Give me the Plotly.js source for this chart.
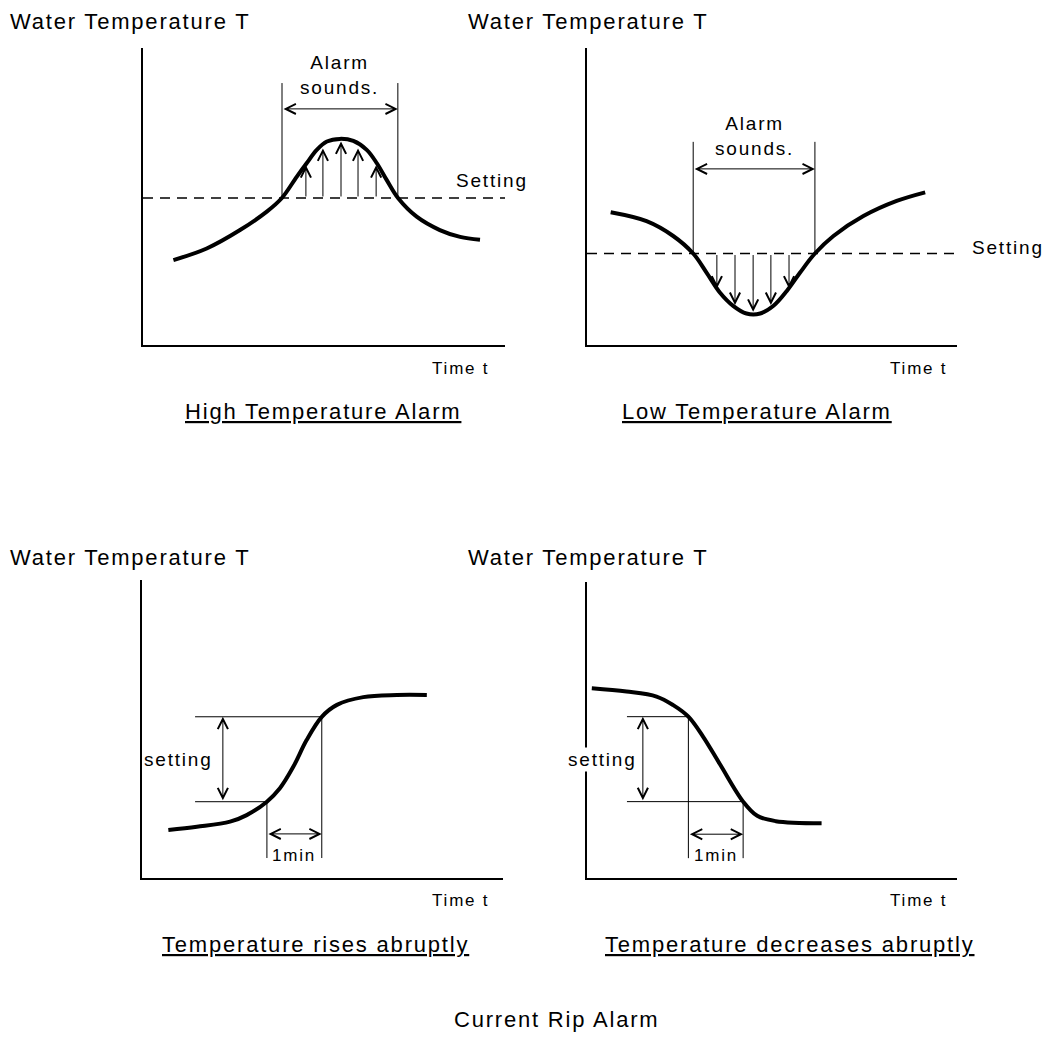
<!DOCTYPE html>
<html>
<head>
<meta charset="utf-8">
<script src="https://cdn.plot.ly/plotly-3.0.1.min.js"></script>
<style>
  html, body { margin: 0; padding: 0; background: #fff; }
  #chart { width: 1049px; height: 1045px; }
  text { letter-spacing: 1.8px; }
</style>
</head>
<body>
<div id="chart"></div>
<script>
// ---------------- DATA ----------------
// Panel 1: High Temperature Alarm  (time t, water temperature T, arbitrary units 0..10)
const highT     = [0.84, 1.76, 2.68, 3.42, 3.83, 4.25, 4.52, 4.80, 5.08, 5.44, 5.81, 6.18, 6.46, 6.73, 7.05, 7.56, 8.20, 8.76, 9.31];
const highTemp  = [2.86, 3.25, 3.87, 4.49, 4.94, 5.67, 6.12, 6.57, 6.85, 6.94, 6.87, 6.57, 6.12, 5.56, 4.94, 4.32, 3.87, 3.64, 3.54];
const highSetting = 4.95;
const highAlarmWindow = [3.84, 7.04];
const highArrowT   = [4.50, 4.97, 5.47, 5.94, 6.44];
const highArrowTip = [6.05, 6.62, 6.85, 6.62, 6.05];

// Panel 2: Low Temperature Alarm
const lowT     = [0.64, 1.61, 2.33, 2.87, 3.23, 3.59, 3.95, 4.31, 4.68, 5.04, 5.40, 5.76, 6.16, 6.66, 7.47, 8.37, 9.14];
const lowTemp  = [4.47, 4.17, 3.67, 3.08, 2.44, 1.77, 1.32, 1.06, 1.06, 1.32, 1.82, 2.44, 3.08, 3.67, 4.34, 4.85, 5.14];
const lowSetting = 3.08;
const lowAlarmWindow = [2.87, 6.16];
const lowArrowT   = [3.51, 4.00, 4.49, 4.97, 5.46];
const lowArrowTip = [1.90, 1.35, 1.12, 1.35, 1.90];

// Panel 3: Temperature rises abruptly
const riseT    = [0.73, 1.52, 2.44, 2.90, 3.46, 3.82, 4.19, 4.56, 4.98, 5.40, 6.13, 7.06, 7.89];
const riseTemp = [1.61, 1.72, 1.89, 2.11, 2.56, 3.01, 3.73, 4.63, 5.41, 5.81, 6.07, 6.14, 6.14];
const riseLevels = [2.56, 5.41];     // temperatures bounding the "setting" span
const riseTimes  = [3.46, 4.98];     // times bounding the "1min" span

// Panel 4: Temperature decreases abruptly
const fallT    = [0.13, 1.07, 1.88, 2.33, 2.74, 3.14, 3.59, 4.22, 4.60, 5.10, 6.34];
const fallTemp = [6.41, 6.30, 6.13, 5.84, 5.45, 4.77, 3.85, 2.58, 2.10, 1.92, 1.85];
const fallLevels = [2.58, 5.45];
const fallTimes  = [2.74, 4.22];

// Text labels
const axisTitle  = 'Water Temperature T';
const timeLabel  = 'Time t';
const panelCaptions = ['High Temperature Alarm', 'Low Temperature Alarm', 'Temperature rises abruptly', 'Temperature decreases abruptly'];
const figureCaption = 'Current Rip Alarm';
const alarmText = 'Alarm<br>sounds.';
const settingHigh = 'Setting';
const settingRate = 'setting';
const oneMinute = '1min';

// ---------------- LAYOUT HELPERS ----------------
const W = 1049, H = 1045;
const px = v => v / W;
const py = v => 1 - v / H;
const FONT = 'Liberation Sans, Arial, Helvetica, sans-serif';
const BLACK = '#000';

function axis(d0, d1, horizontal) {
  return {
    domain: horizontal ? [px(d0), px(d1)] : [py(d1), py(d0)],
    range: [0, 10], showline: true, linewidth: 2, linecolor: BLACK,
    showgrid: false, zeroline: false, showticklabels: false, ticks: '', fixedrange: true
  };
}

const curveLine = {shape: 'spline', smoothing: 1.0, width: 4, color: BLACK};
const thin = {width: 1, color: BLACK};

const traces = [];
const shapes = [];
const annotations = [];

function curve(x, y, n) {
  traces.push({x, y, xaxis: 'x' + n, yaxis: 'y' + n, mode: 'lines', line: curveLine, hoverinfo: 'skip', cliponaxis: false});
}
function seg(n, x0, y0, x1, y1, extra) {
  shapes.push(Object.assign({type: 'line', xref: 'x' + n, yref: 'y' + n, x0, y0, x1, y1, line: thin}, extra || {}));
}
function arrow(n, xTail, yTail, xHead, yHead, both) {
  annotations.push({
    xref: 'x' + n, yref: 'y' + n, axref: 'x' + n, ayref: 'y' + n,
    x: xHead, y: yHead, ax: xTail, ay: yTail, text: '', showarrow: true,
    arrowhead: 5, arrowsize: 2, arrowwidth: 1, arrowcolor: BLACK,
    arrowside: both ? 'end+start' : 'end', startarrowhead: 5, startarrowsize: 2,
    standoff: 0, startstandoff: 0
  });
}
function label(text, xp, yp, xanchor, size, extra) {
  annotations.push(Object.assign({
    xref: 'paper', yref: 'paper', x: px(xp), y: py(yp), xanchor: xanchor || 'center', yanchor: 'middle',
    text, showarrow: false, font: {family: FONT, size: size || 22, color: BLACK}
  }, extra || {}));
}
function dataLabel(n, text, x, y, size, extra) {
  annotations.push(Object.assign({
    xref: 'x' + n, yref: 'y' + n, x, y, xanchor: 'center', yanchor: 'middle',
    text, showarrow: false, font: {family: FONT, size: size || 19, color: BLACK}
  }, extra || {}));
}

// ---------------- PANEL 1 ----------------
curve(highT, highTemp, '');
shapes.push({type: 'line', xref: 'x', yref: 'y', x0: 0, x1: 10.05, y0: highSetting, y1: highSetting,
             line: {width: 1.5, color: BLACK, dash: '10px,7px'}});
highAlarmWindow.forEach(t => seg('', t, highSetting, t, 8.82));
arrow('', highAlarmWindow[0], 7.95, highAlarmWindow[1], 7.95, true);
highArrowT.forEach((t, i) => arrow('', t, highSetting, t, highArrowTip[i], false));
dataLabel('', alarmText, (highAlarmWindow[0] + highAlarmWindow[1]) / 2, 9.1, 19);

// ---------------- PANEL 2 ----------------
curve(lowT, lowTemp, '2');
shapes.push({type: 'line', xref: 'x2', yref: 'y2', x0: 0, x1: 9.95, y0: lowSetting, y1: lowSetting,
             line: {width: 1.5, color: BLACK, dash: '10px,7px'}});
lowAlarmWindow.forEach(t => seg('2', t, lowSetting, t, 6.84));
arrow('2', lowAlarmWindow[0], 5.93, lowAlarmWindow[1], 5.93, true);
lowArrowT.forEach((t, i) => arrow('2', t, lowSetting, t, lowArrowTip[i], false));
dataLabel('2', alarmText, (lowAlarmWindow[0] + lowAlarmWindow[1]) / 2, 7.04, 19);

// ---------------- PANEL 3 ----------------
curve(riseT, riseTemp, '3');
seg('3', 1.47, riseLevels[0], riseTimes[0], riseLevels[0]);
seg('3', 1.47, riseLevels[1], riseTimes[1], riseLevels[1]);
seg('3', riseTimes[0], riseLevels[0], riseTimes[0], 0.67);
seg('3', riseTimes[1], riseLevels[1], riseTimes[1], 0.67);
arrow('3', 2.24, riseLevels[0], 2.24, riseLevels[1], true);
arrow('3', riseTimes[0], 1.48, riseTimes[1], 1.48, true);
dataLabel('3', settingRate, 1.0, 3.96, 19);
dataLabel('3', oneMinute, (riseTimes[0] + riseTimes[1]) / 2, 0.77, 17);

// ---------------- PANEL 4 ----------------
curve(fallT, fallTemp, '4');
seg('4', 1.08, fallLevels[1], fallTimes[0], fallLevels[1]);
seg('4', 1.08, fallLevels[0], fallTimes[1], fallLevels[0]);
seg('4', fallTimes[0], fallLevels[1], fallTimes[0], 0.67);
seg('4', fallTimes[1], fallLevels[0], fallTimes[1], 0.67);
arrow('4', 1.51, fallLevels[0], 1.51, fallLevels[1], true);
arrow('4', fallTimes[0], 1.48, fallTimes[1], 1.48, true);
dataLabel('4', settingRate, 0.41, 3.99, 19, {bgcolor: '#fff'});
dataLabel('4', oneMinute, (fallTimes[0] + fallTimes[1]) / 2, 0.77, 17);

// ---------------- TEXT ----------------
label(axisTitle, 8, 22, 'left', 22);
label(axisTitle, 466, 22, 'left', 22);
label(axisTitle, 8, 557, 'left', 22);
label(axisTitle, 466, 557, 'left', 22);
label(timeLabel, 491, 368, 'right', 17);
label(timeLabel, 949, 368, 'right', 17);
label(timeLabel, 491, 900, 'right', 17);
label(timeLabel, 949, 900, 'right', 17);
label(settingHigh, 454, 180, 'left', 19);
label(settingHigh, 970, 248, 'left', 19);
label('<u>' + panelCaptions[0] + '</u>', 323, 411, 'center', 22);
label('<u>' + panelCaptions[1] + '</u>', 757, 411, 'center', 22);
label('<u>' + panelCaptions[2] + '</u>', 315, 944, 'center', 22);
label('<u>' + panelCaptions[3] + '</u>', 790, 944, 'center', 22);
label(figureCaption, 556, 1019, 'center', 22);

const layout = {
  width: W, height: H, margin: {l: 0, r: 0, t: 0, b: 0},
  paper_bgcolor: '#fff', plot_bgcolor: '#fff', showlegend: false,
  xaxis:  axis(143, 505, true), yaxis:  axis(48, 345, false),
  xaxis2: axis(587, 957, true), yaxis2: axis(48, 345, false),
  xaxis3: axis(142, 503, true), yaxis3: axis(580, 878, false),
  xaxis4: axis(587, 957, true), yaxis4: axis(582, 878, false),
  shapes, annotations,
  font: {family: FONT, color: BLACK}
};
layout.yaxis.anchor = 'x'; layout.xaxis.anchor = 'y';
layout.yaxis2.anchor = 'x2'; layout.xaxis2.anchor = 'y2';
layout.yaxis3.anchor = 'x3'; layout.xaxis3.anchor = 'y3';
layout.yaxis4.anchor = 'x4'; layout.xaxis4.anchor = 'y4';

Plotly.newPlot('chart', traces, layout, {staticPlot: true, displayModeBar: false});
</script>
</body>
</html>
